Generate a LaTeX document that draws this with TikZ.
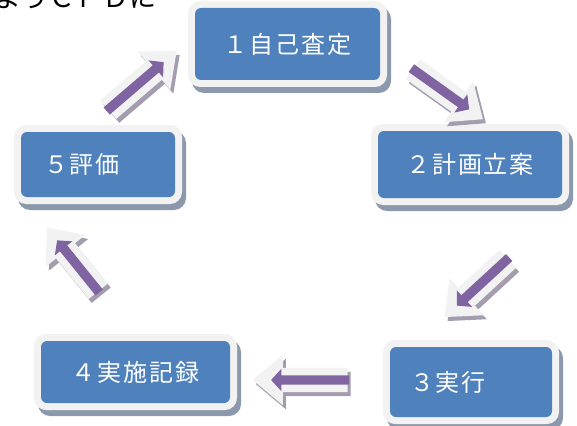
\documentclass[tikz,border=0pt]{standalone}
\usepackage{fontspec}
\newfontfamily\jp[LetterSpace=8]{Noto Sans CJK JP}
\newfontfamily\jptop{Noto Sans CJK JP}
\usetikzlibrary{shapes.arrows,calc}
\definecolor{boxblue}{HTML}{4F81BD}
\definecolor{framegray}{HTML}{F2F2F2}
\definecolor{boxshadow}{RGB}{140,152,172}
\definecolor{arrowshadow}{RGB}{164,157,176}
\definecolor{arrowpurple}{HTML}{8064A2}
\tikzset{
  shadowbox/.style={fill=boxshadow, rounded corners=12pt, inner sep=0pt},
  framebox/.style={fill=framegray, rounded corners=12pt, inner sep=0pt},
  bluebox/.style={fill=boxblue, rounded corners=6pt, text=white,
    font=\jp\fontsize{24}{28}\selectfont, inner sep=0pt},
  leftbox/.style={bluebox, align=left},
  arrowbase/.style={single arrow, inner xsep=0pt, sloped, allow upside down},
  warrow/.style={arrowbase, fill=framegray, inner ysep=12pt,
    single arrow head extend=13pt, single arrow tip angle=80},
  sarrow/.style={warrow, fill=arrowshadow},
  parrow/.style={arrowbase, fill=arrowpurple, inner ysep=4.5pt,
    single arrow head extend=6.5pt, single arrow tip angle=95}
}
\begin{document}
\begin{tikzpicture}[x=1pt,y=-1pt]
\useasboundingbox (0,0) rectangle (577,425);

% top clipped text
\begin{scope}
  \clip (0,0) rectangle (200,30);
  \node[anchor=base west, font=\jptop\fontsize{27}{30}\selectfont, inner sep=0pt] (toptext) at (-6,8) {ようＣＰＤに};
\end{scope}

% boxes: shadow, frame, blue
\node[shadowbox, minimum width=199pt, minimum height=86pt] (s1) at (291.5,50) {};
\node[framebox, minimum width=199pt, minimum height=86pt] (f1) at (287.5,44) {};
\node[bluebox, minimum width=185pt, minimum height=72pt] (b1) at (287.5,44) {１自己査定};

\node[shadowbox, minimum width=198pt, minimum height=81pt] (s2) at (474,170.5) {};
\node[framebox, minimum width=198pt, minimum height=81pt] (f2) at (470,164.5) {};
\node[bluebox, minimum width=184pt, minimum height=67pt] (b2) at (470,164.5) {２計画立案};

\node[shadowbox, minimum width=176pt, minimum height=84pt] (s3) at (475,388) {};
\node[framebox, minimum width=176pt, minimum height=84pt] (f3) at (471,382) {};
\node[leftbox, inner xsep=20pt, text width=122pt, minimum height=70pt] (b3) at (471,382) {３実行};

\node[shadowbox, minimum width=203pt, minimum height=76pt] (s4) at (139.5,378) {};
\node[framebox, minimum width=203pt, minimum height=76pt] (f4) at (135.5,372) {};
\node[bluebox, minimum width=189pt, minimum height=62pt] (b4) at (135.5,372) {４実施記録};

\node[shadowbox, minimum width=168pt, minimum height=79pt] (s5) at (102,170.5) {};
\node[framebox, minimum width=168pt, minimum height=79pt] (f5) at (98,164.5) {};
\node[leftbox, inner xsep=23pt, text width=108pt, minimum height=65pt] (b5) at (98,164.5) {５評価};

% arrow end coordinates (tail t, head h)
\coordinate (a1t) at (407,65);  \coordinate (a1h) at (477,115);
\coordinate (a2t) at (513,254); \coordinate (a2h) at (450,312);
\coordinate (a3t) at (355,380); \coordinate (a3h) at (260,380);
\coordinate (a4t) at (102,296); \coordinate (a4h) at (52,234);
\coordinate (a5t) at (102,115); \coordinate (a5h) at (172,55);

% arrow 1 -> 2
\path ($(a1t)+(3,4)$) -- ($(a1h)+(3,4)$) node[sarrow, midway, minimum height=86pt] (a1s) {};
\path (a1t) -- (a1h) node[warrow, midway, minimum height=86pt] (a1w) {};
\path (a1t) -- (a1h) node[parrow, pos=0.45, minimum height=71pt] (a1p) {};
% arrow 2 -> 3
\path ($(a2t)+(3,4)$) -- ($(a2h)+(3,4)$) node[sarrow, midway, minimum height=86pt] (a2s) {};
\path (a2t) -- (a2h) node[warrow, midway, minimum height=86pt] (a2w) {};
\path (a2t) -- (a2h) node[parrow, pos=0.45, minimum height=71pt] (a2p) {};
% arrow 3 -> 4
\path ($(a3t)+(3,4)$) -- ($(a3h)+(3,4)$) node[sarrow, midway, minimum height=95pt] (a3s) {};
\path (a3t) -- (a3h) node[warrow, midway, minimum height=95pt] (a3w) {};
\path (a3t) -- (a3h) node[parrow, pos=0.45, minimum height=78pt] (a3p) {};
% arrow 4 -> 5
\path ($(a4t)+(3,4)$) -- ($(a4h)+(3,4)$) node[sarrow, midway, minimum height=82pt] (a4s) {};
\path (a4t) -- (a4h) node[warrow, midway, minimum height=82pt] (a4w) {};
\path (a4t) -- (a4h) node[parrow, pos=0.45, minimum height=67pt] (a4p) {};
% arrow 5 -> 1
\path ($(a5t)+(3,4)$) -- ($(a5h)+(3,4)$) node[sarrow, midway, minimum height=90pt] (a5s) {};
\path (a5t) -- (a5h) node[warrow, midway, minimum height=90pt] (a5w) {};
\path (a5t) -- (a5h) node[parrow, pos=0.45, minimum height=75pt] (a5p) {};
\end{tikzpicture}
\end{document}
